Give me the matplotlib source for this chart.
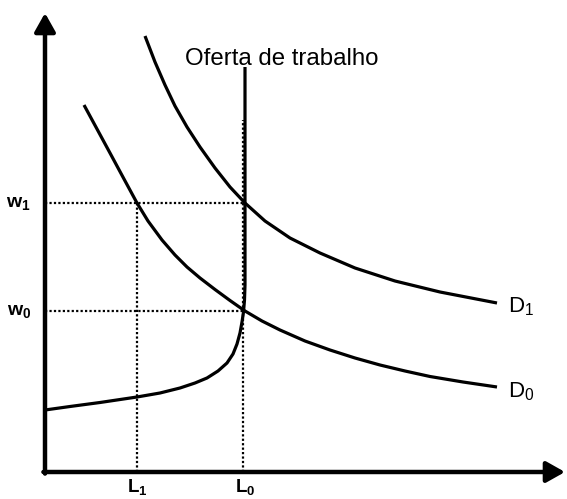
import matplotlib.pyplot as plt

plt.rcParams['font.family'] = ['Liberation Sans', 'DejaVu Sans']
plt.rcParams['mathtext.fontset'] = 'custom'
plt.rcParams['mathtext.rm'] = 'Liberation Sans'
plt.rcParams['mathtext.it'] = 'Liberation Sans'
plt.rcParams['mathtext.bf'] = 'Liberation Sans:bold'

# labour (L) and wage (w) (axis units)
d1_L = [100, 110, 120, 130, 142, 155, 170, 185, 200, 220, 245, 275, 310, 350, 395, 452]
d1_w = [436, 410, 387, 366, 345, 325, 304, 285, 269, 251, 234, 219, 204, 191, 180, 169]

d0_L = [39, 52, 65, 79, 92, 103, 117, 130, 142, 155, 170, 185, 200, 217, 235, 260,
        285, 310, 335, 360, 385, 418, 452]
d0_w = [367, 343, 319, 293, 269, 251, 232, 217, 205, 194, 182.5, 171.5, 161, 151, 142, 131,
        122, 114, 107, 101, 95.5, 90, 85]

supply_L = [0, 25, 55, 92, 115, 135, 150, 162, 173, 182, 188, 192, 195, 197, 198.5, 199.5,
            200, 200]
supply_w = [62, 65.5, 69.5, 75, 79, 84, 89, 94, 101, 109, 118, 128, 139, 150, 160, 172,
            187, 405]

L1, L0 = 92, 200
w1, w0 = 269, 161
L0_guide_top = 352

fig = plt.figure(figsize=(5.67, 4.99), dpi=100)
ax = fig.add_axes([45 / 567, 27 / 499, 520 / 567, 459 / 499])
ax.set_xlim(0, 520)
ax.set_ylim(0, 459)
ax.axis('off')

# axes with arrow heads
arrow = dict(arrowstyle='-|>,head_length=0.8,head_width=0.45', lw=3.2,
             color='black', shrinkA=0, shrinkB=0, mutation_scale=14)
ax.annotate('', xy=(520, 0), xytext=(-1.6, 0), arrowprops=arrow, annotation_clip=False)
ax.annotate('', xy=(0, 459), xytext=(0, -1.6), arrowprops=arrow, annotation_clip=False)

# dotted guides
dots = dict(color='black', lw=1.6, linestyle=(0, (1, 1)), clip_on=False)
ax.plot([0, L0], [w1, w1], **dots)
ax.plot([0, L0], [w0, w0], **dots)
ax.plot([L1, L1], [0, w1], **dots)
ax.plot([L0 - 2, L0 - 2], [0, L0_guide_top], **dots)

# curves
curve = dict(color='black', lw=2.3, clip_on=False, solid_capstyle='butt',
             solid_joinstyle='round')
ax.plot(d1_L, d1_w, **curve)
ax.plot(d0_L, d0_w, **curve)
ax.plot(supply_L, supply_w, **curve)

ax.text(140, 407, 'Oferta de trabalho', fontsize=17.3, ha='left', va='baseline')
ax.text(463, 160, r'$\mathrm{D}_1$', fontsize=16, ha='left', va='baseline')
ax.text(463, 75, r'$\mathrm{D}_0$', fontsize=16, ha='left', va='baseline')

for val, lab in [(w1, r'$\mathbf{w}_\mathbf{1}$'), (w0, r'$\mathbf{w}_\mathbf{0}$')]:
    ax.annotate(lab, xy=(0, val), xytext=(-10, -3), textcoords='offset points',
                ha='right', va='baseline', fontsize=14, annotation_clip=False)
for val, lab in [(L1, r'$\mathbf{L}_\mathbf{1}$'), (L0, r'$\mathbf{L}_\mathbf{0}$')]:
    ax.annotate(lab, xy=(val, 0), xytext=(0, -3.5), textcoords='offset points',
                ha='center', va='top', fontsize=13.5, annotation_clip=False)

fig.savefig('out.png', dpi=100)
